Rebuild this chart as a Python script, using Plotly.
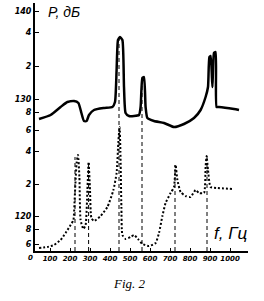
import plotly.graph_objects as go

# Frequency axis ticks (Hz)
X_TICKS = [100, 200, 300, 400, 500, 600, 700, 800, 900, 1000]

# Y axis tick positions (level, dB-like scale) and their printed labels
Y_TICK_VALS = [139.0, 136.9, 133.5, 130.2, 128.9, 127.1, 125.0, 121.7, 118.5, 117.2, 115.7]
Y_TICK_TEXT = ["140", "4", "2", "130", "8", "6", "4", "2", "120", "8", "6"]

# Upper (solid) curve
TOP_F = [45, 103, 153, 187, 220, 242, 257, 270, 283, 295, 320, 370, 412, 425, 433, 440,
         450, 462, 470, 478, 495, 545, 553, 562, 570, 578, 587, 620, 670, 720, 770, 820,
         853, 878, 890, 897, 903, 912, 920, 928, 933, 945, 1020, 1045]
TOP_L = [128.2, 128.6, 129.4, 129.9, 130.0, 129.8, 128.8, 128.0, 128.0, 128.6, 129.1, 129.3,
         129.4, 129.9, 133.1, 136.1, 136.4, 136.1, 131.4, 128.8, 128.5, 128.6, 129.4, 132.3,
         132.4, 129.4, 128.3, 128.0, 127.8, 127.4, 127.7, 128.3, 129.1, 130.4, 131.4, 134.4,
         134.5, 131.4, 134.8, 134.9, 129.4, 129.4, 129.2, 129.1]

# Lower (dotted) curve
BOT_F = [45, 87, 120, 153, 178, 203, 217, 223, 228, 233, 240, 247, 253, 267, 278, 287, 293,
         300, 307, 320, 353, 387, 417, 433, 442, 448, 452, 457, 462, 478, 503, 520, 540, 562,
         595, 628, 645, 662, 678, 703, 720, 728, 737, 753, 778, 803, 828, 845, 870, 878, 883,
         890, 903, 937, 1012]
BOT_L = [115.3, 115.4, 115.6, 116.1, 116.8, 117.6, 118.1, 120.1, 122.1, 123.8, 124.6, 122.4,
         118.1, 117.2, 117.6, 121.1, 123.9, 121.1, 118.3, 118.0, 118.5, 119.4, 121.1, 122.8,
         126.0, 127.4, 125.0, 119.4, 116.6, 116.2, 116.4, 116.6, 116.2, 115.7, 115.5, 115.8,
         116.8, 118.5, 119.8, 120.8, 121.4, 123.6, 122.1, 120.9, 120.5, 120.4, 121.1, 120.8,
         120.8, 123.4, 124.5, 123.1, 121.4, 121.3, 121.2]

# Dashed marker lines: frequency and upper end level
VLINE_F = [225, 293, 445, 560, 725, 885]
VLINE_TOP = [124.4, 123.9, 136.2, 132.4, 123.6, 124.5]
Y_MIN = 115.0
Y_MAX = 139.8

fig = go.Figure()

for f, top in zip(VLINE_F, VLINE_TOP):
    fig.add_trace(go.Scatter(x=[f, f], y=[Y_MIN, top], mode="lines",
                             line=dict(color="black", width=1, dash="4px,3px"),
                             showlegend=False, hoverinfo="skip"))

fig.add_trace(go.Scatter(x=TOP_F, y=TOP_L, mode="lines",
                         line=dict(color="black", width=2.5, shape="spline", smoothing=0.5),
                         showlegend=False))
fig.add_trace(go.Scatter(x=BOT_F, y=BOT_L, mode="lines",
                         line=dict(color="black", width=2, dash="2px,2px", shape="spline", smoothing=0.5),
                         showlegend=False))

xtickfont = dict(family="DejaVu Sans", size=7, color="black", weight="bold", style="italic")
ytickfont = dict(family="DejaVu Sans", size=8, color="black", weight="bold", style="italic")

fig.update_xaxes(range=[25, 1090], tickvals=X_TICKS, ticktext=[str(v) for v in X_TICKS],
                 tickangle=0, ticks="inside", ticklen=3, tickwidth=1, tickcolor="black",
                 showline=True, linecolor="black", linewidth=2, showgrid=False,
                 zeroline=False, tickfont=xtickfont)
fig.update_yaxes(range=[Y_MIN, Y_MAX], tickvals=Y_TICK_VALS, ticktext=Y_TICK_TEXT,
                 ticks="inside", ticklen=4, tickwidth=1, tickcolor="black",
                 showline=True, linecolor="black", linewidth=2, showgrid=False,
                 zeroline=False, tickfont=ytickfont)

fig.add_annotation(x=-0.019, y=-0.03, xref="paper", yref="paper", text="0", showarrow=False,
                   font=xtickfont, xanchor="center", yanchor="middle")
fig.add_annotation(x=0.05, y=0.965, xref="paper", yref="paper", text="P, дБ",
                   showarrow=False, xanchor="left", yanchor="middle",
                   font=dict(family="Liberation Sans", size=14, style="italic", color="black"))
fig.add_annotation(x=0.92, y=0.069, xref="paper", yref="paper", text="f, Гц",
                   showarrow=False, xanchor="center", yanchor="middle",
                   font=dict(family="Liberation Sans", size=17, style="italic", color="black"))
fig.add_annotation(x=0.446, y=-0.133, xref="paper", yref="paper", text="Fig. 2",
                   showarrow=False, xanchor="center", yanchor="middle",
                   font=dict(family="Liberation Serif", size=13, style="italic", color="black"))

fig.update_layout(width=264, height=301, margin=dict(l=35, r=16, t=3, b=50),
                  plot_bgcolor="white", paper_bgcolor="white")

fig.write_html("out.html")
